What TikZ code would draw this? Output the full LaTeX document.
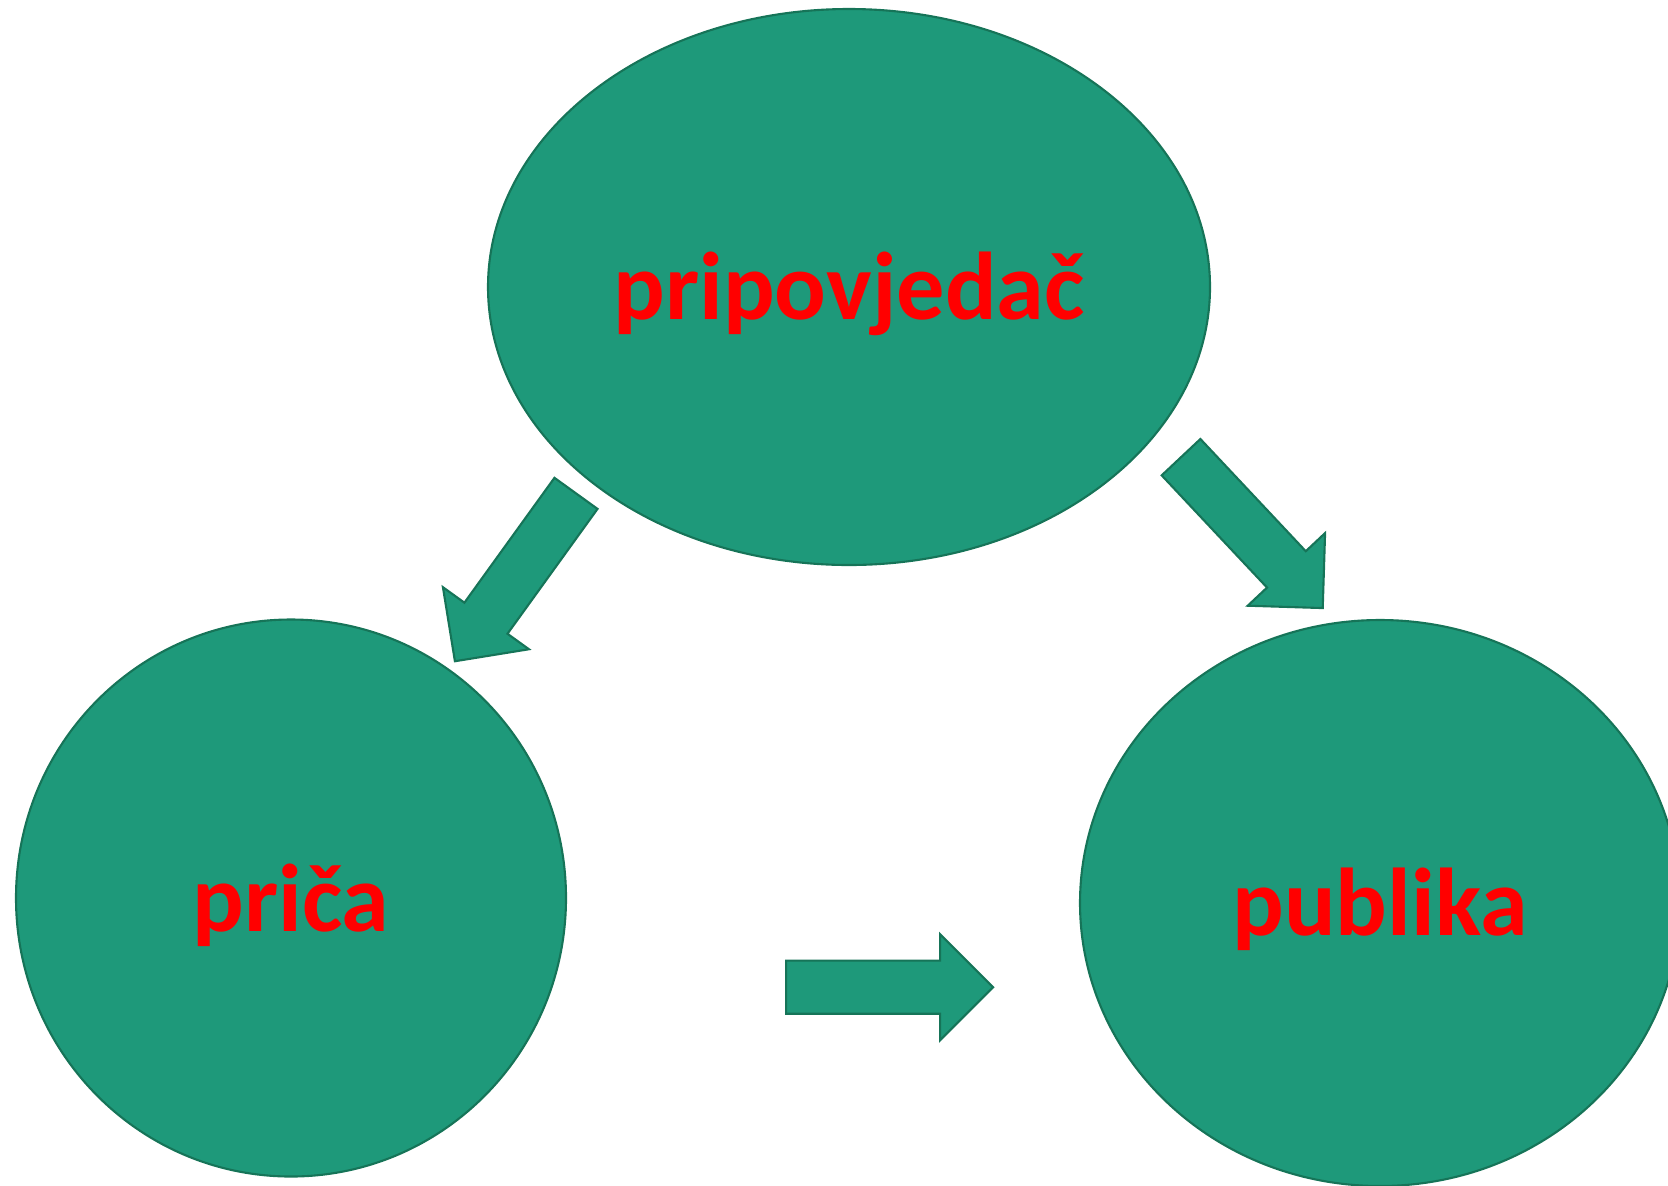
\documentclass[tikz,border=0pt]{standalone}
\usepackage{fontspec}
\setmainfont{Carlito}
\usepackage{xcolor}
\usepackage{tikz}
\usetikzlibrary{shapes,arrows,positioning,calc,shapes.geometric}

\definecolor{blobgreen}{RGB}{30,153,122}
\definecolor{blobedge}{RGB}{22,116,88}

\begin{document}
\begin{tikzpicture}[x=0.1mm, y=-0.1mm,
    blob/.style={ellipse, draw=blobedge, fill=blobgreen, line width=0.6pt, inner sep=0pt},
    word/.style={text=red, font=\fontsize{27.4}{30}\selectfont\bfseries, inner sep=0pt},
    bigarrow/.style={single arrow, draw=blobedge, fill=blobgreen, line width=0.6pt,
        inner xsep=0pt, inner ysep=2.55mm,
        minimum height=20.7mm, minimum width=10.4mm, single arrow head extend=2.65mm,
        single arrow head indent=0pt, anchor=tail}]
    \useasboundingbox (0,0) rectangle (1668,1185);

    % Ellipses
    \node[blob, minimum width=72.2mm, minimum height=55.6mm] (narrator) at (849,287) {};
    \node[blob, minimum width=55.0mm, minimum height=55.7mm] (story) at (291,898) {};
    \node[blob, minimum width=60.0mm, minimum height=56.6mm] (audience) at (1380,903) {};

    % Labels
    \node[word] (narratorText) at ([yshift=-0.68mm]narrator.center) {pripovjedač};
    \node[word] (storyText) at ([yshift=-0.7mm]story.center) {priča};
    \node[word] (audienceText) at ([yshift=-0.65mm]audience.center) {publika};

    % Block arrows
    \node[bigarrow, rotate=234.2] (toStory) at (576.6,492.5) {};
    \node[bigarrow, rotate=-46.8] (toAudience) at (1180.3,456.4) {};
    \node[bigarrow] (storyToAudience) at (785.1,987.2) {};
\end{tikzpicture}
\end{document}
